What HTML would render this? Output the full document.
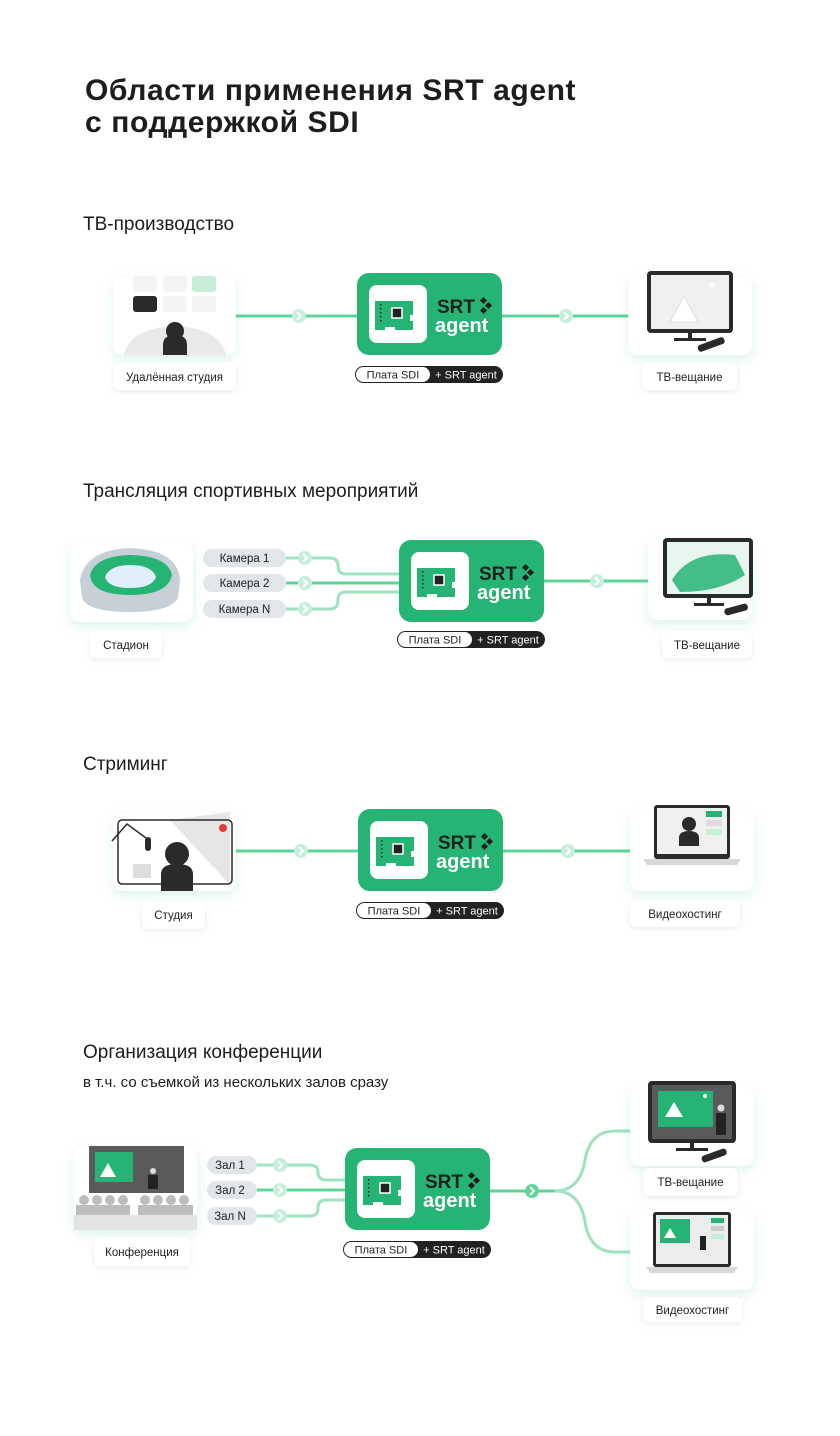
<!DOCTYPE html>
<html><head><meta charset="utf-8"><style>
html,body{margin:0;padding:0;background:#fff}
svg{display:block}
text{font-family:"Liberation Sans","Noto Sans CJK SC",sans-serif}
</style></head><body>
<svg width="840" height="1436" viewBox="0 0 840 1436" xmlns="http://www.w3.org/2000/svg">
<defs>
<filter id="sh" x="-30%" y="-30%" width="160%" height="170%"><feDropShadow dx="0" dy="4" stdDeviation="5" flood-color="#3cc47f" flood-opacity="0.18"/></filter>
<filter id="sh2" x="-30%" y="-30%" width="160%" height="170%"><feDropShadow dx="0" dy="2" stdDeviation="3" flood-color="#000" flood-opacity="0.08"/></filter>
</defs>
<rect width="840" height="1436" fill="#fff"/>
<text x="85" y="100" font-size="30" font-weight="bold" letter-spacing="0.6" fill="#1d1d1d">Области применения SRT agent</text>
<text x="85" y="132" font-size="30" font-weight="bold" letter-spacing="0.6" fill="#1d1d1d">с поддержкой SDI</text>

<text x="83" y="230" font-size="19" fill="#1d1d1d">ТВ-производство</text>
<text x="83" y="497" font-size="19" fill="#1d1d1d">Трансляция спортивных мероприятий</text>
<text x="83" y="770" font-size="19" fill="#1d1d1d">Стриминг</text>
<text x="83" y="1058" font-size="19" fill="#1d1d1d">Организация конференции</text>
<text x="83" y="1087" font-size="15" fill="#1d1d1d">в т.ч. со съемкой из нескольких залов сразу</text>

<!-- ===== Section 1 ===== -->
<line x1="236" y1="316" x2="357" y2="316" stroke="#5fd498" stroke-width="3"/>
<line x1="502" y1="316" x2="628" y2="316" stroke="#5fd498" stroke-width="3"/>
<circle cx="299" cy="316" r="7" fill="#c5efd9"/><path d="M297 312 l4 4 -4 4" stroke="#fff" stroke-width="2" fill="none"/>
<circle cx="566" cy="316" r="7" fill="#c5efd9"/><path d="M564 312 l4 4 -4 4" stroke="#fff" stroke-width="2" fill="none"/>
<rect x="113" y="277" width="123" height="78" rx="10" fill="#fff" filter="url(#sh)"/>
<rect x="133" y="276" width="24" height="16" rx="3" fill="#f4f4f4"/><rect x="163" y="276" width="24" height="16" rx="3" fill="#f4f4f4"/><rect x="192" y="276" width="24" height="16" rx="3" fill="#c7eed8"/>
<rect x="133" y="296" width="24" height="16" rx="3" fill="#2a2a2a"/><rect x="163" y="296" width="24" height="16" rx="3" fill="#f4f4f4"/><rect x="192" y="296" width="24" height="16" rx="3" fill="#f4f4f4"/>
<path d="M124 355 Q130 328 175 326 Q220 328 226 355Z" fill="#e9e9e9"/>
<circle cx="175" cy="331" r="9" fill="#2a2a2a"/><path d="M163 355 v-10 q0-10 12-10 q12 0 12 10 v10z" fill="#2a2a2a"/>
<rect x="113" y="363" width="123" height="27" rx="6" fill="#fff" filter="url(#sh2)"/>
<text x="174.5" y="381" font-size="11.5" text-anchor="middle" fill="#222">Удалённая студия</text>

<rect x="628" y="277" width="124" height="78" rx="10" fill="#fff" filter="url(#sh)"/>
<rect x="647" y="271" width="86" height="62" rx="4" fill="#2a2a2a"/><rect x="651" y="275" width="78" height="54" fill="#f0f0f0"/>
<path d="M670 322 l14-26 14 26z" fill="#fff" stroke="#ddd"/><circle cx="712" cy="285" r="2.5" fill="#fff"/>
<rect x="688" y="333" width="4" height="6" fill="#2a2a2a"/><rect x="674" y="338" width="32" height="3" fill="#2a2a2a"/>
<rect x="697" y="341" width="28" height="7" rx="3" fill="#2a2a2a" transform="rotate(-20 711 344)"/>
<rect x="642" y="363" width="95" height="27" rx="6" fill="#fff" filter="url(#sh2)"/>
<text x="689.5" y="381" font-size="11.5" text-anchor="middle" fill="#222">ТВ-вещание</text>

<g transform="translate(357 273)">
<rect width="145" height="82" rx="12" fill="#26b475"/>
<rect x="12" y="12" width="58" height="58" rx="8" fill="#fff"/>
<path d="M18 28 h38 v14 h-3 v6 h3 v9 h-18 v-3 h-10 v3 h-10z" fill="#26b475"/>
<rect x="35" y="35" width="10" height="10" fill="#222" stroke="#fff" stroke-width="1.5"/>
<g fill="#222"><rect x="23" y="31" width="1.5" height="1.5"/><rect x="23" y="35" width="1.5" height="1.5"/><rect x="23" y="39" width="1.5" height="1.5"/><rect x="23" y="43" width="1.5" height="1.5"/><rect x="23" y="47" width="1.5" height="1.5"/></g>
<text x="80" y="40" font-size="19" font-weight="bold" fill="#1f1f1f">SRT</text>
<g fill="#1f1f1f"><rect x="124" y="25" width="5" height="5" transform="rotate(45 126.5 27.5)"/><rect x="129" y="30" width="5" height="5" transform="rotate(45 131.5 32.5)"/><rect x="124" y="35" width="5" height="5" transform="rotate(45 126.5 37.5)"/></g>
<text x="78" y="59" font-size="20" font-weight="bold" fill="#fff">agent</text>
</g>
<g transform="translate(355 366)">
<rect width="148" height="17" rx="8.5" fill="#222"/><rect x="1" y="1" width="74" height="15" rx="7.5" fill="#fff"/>
<text x="38" y="12.5" font-size="11" text-anchor="middle" fill="#222">Плата SDI</text>
<text x="111" y="12.5" font-size="11" text-anchor="middle" fill="#fff">+ SRT agent</text>
</g>

<!-- ===== Section 2 ===== -->
<g fill="none" stroke-width="3">
<path d="M286 558 H330 Q338 558 338 566 Q338 574 346 574 H399" stroke="#9ee3bf"/>
<path d="M286 583 H399" stroke="#5fd498"/>
<path d="M286 609 H330 Q338 609 338 600 Q338 592 346 592 H399" stroke="#9ee3bf"/>
<line x1="544" y1="581" x2="648" y2="581" stroke="#5fd498"/>
</g>
<circle cx="305" cy="558" r="7" fill="#c5efd9"/><path d="M303 554 l4 4 -4 4" stroke="#fff" stroke-width="2" fill="none"/>
<circle cx="305" cy="583" r="7" fill="#c5efd9"/><path d="M303 579 l4 4 -4 4" stroke="#fff" stroke-width="2" fill="none"/>
<circle cx="305" cy="609" r="7" fill="#c5efd9"/><path d="M303 605 l4 4 -4 4" stroke="#fff" stroke-width="2" fill="none"/>
<circle cx="597" cy="581" r="7" fill="#c5efd9"/><path d="M595 577 l4 4 -4 4" stroke="#fff" stroke-width="2" fill="none"/>
<rect x="203" y="549" width="83" height="18" rx="9" fill="#e3e6e8"/><text x="244.5" y="562" font-size="11.5" text-anchor="middle" fill="#222">Камера 1</text>
<rect x="203" y="574" width="83" height="18" rx="9" fill="#e3e6e8"/><text x="244.5" y="587" font-size="11.5" text-anchor="middle" fill="#222">Камера 2</text>
<rect x="203" y="600" width="83" height="18" rx="9" fill="#e3e6e8"/><text x="244.5" y="613" font-size="11.5" text-anchor="middle" fill="#222">Камера N</text>

<rect x="70" y="543" width="123" height="79" rx="10" fill="#fff" filter="url(#sh)"/>
<path d="M80 580 Q85 550 130 548 Q178 550 180 580 L178 598 Q170 612 130 612 Q88 612 82 598Z" fill="#c7d0d6"/>
<path d="M90 575 Q95 556 130 555 Q168 556 172 575 Q168 595 130 595 Q92 595 90 575Z" fill="#26b475"/>
<path d="M105 577 Q110 565 130 565 Q152 565 156 577 Q152 588 130 588 Q108 588 105 577Z" fill="#dff0fb"/>
<rect x="90" y="630" width="72" height="28" rx="6" fill="#fff" filter="url(#sh2)"/>
<text x="126" y="649" font-size="11.5" text-anchor="middle" fill="#222">Стадион</text>

<rect x="648" y="540" width="104" height="80" rx="10" fill="#fff" filter="url(#sh)"/>
<rect x="663" y="538" width="90" height="60" rx="4" fill="#2a2a2a"/><rect x="667" y="542" width="82" height="52" fill="#e9f6f0"/>
<path d="M672 580 Q690 550 735 555 L745 575 Q720 592 680 592Z" fill="#26b475" opacity="0.85"/>
<rect x="707" y="598" width="4" height="6" fill="#2a2a2a"/><rect x="694" y="603" width="30" height="3" fill="#2a2a2a"/>
<rect x="724" y="606" width="24" height="7" rx="3" fill="#2a2a2a" transform="rotate(-15 736 609)"/>
<rect x="662" y="631" width="90" height="27" rx="6" fill="#fff" filter="url(#sh2)"/>
<text x="707" y="649" font-size="11.5" text-anchor="middle" fill="#222">ТВ-вещание</text>

<g transform="translate(399 540)">
<rect width="145" height="82" rx="12" fill="#26b475"/>
<rect x="12" y="12" width="58" height="58" rx="8" fill="#fff"/>
<path d="M18 28 h38 v14 h-3 v6 h3 v9 h-18 v-3 h-10 v3 h-10z" fill="#26b475"/>
<rect x="35" y="35" width="10" height="10" fill="#222" stroke="#fff" stroke-width="1.5"/>
<g fill="#222"><rect x="23" y="31" width="1.5" height="1.5"/><rect x="23" y="35" width="1.5" height="1.5"/><rect x="23" y="39" width="1.5" height="1.5"/><rect x="23" y="43" width="1.5" height="1.5"/><rect x="23" y="47" width="1.5" height="1.5"/></g>
<text x="80" y="40" font-size="19" font-weight="bold" fill="#1f1f1f">SRT</text>
<g fill="#1f1f1f"><rect x="124" y="25" width="5" height="5" transform="rotate(45 126.5 27.5)"/><rect x="129" y="30" width="5" height="5" transform="rotate(45 131.5 32.5)"/><rect x="124" y="35" width="5" height="5" transform="rotate(45 126.5 37.5)"/></g>
<text x="78" y="59" font-size="20" font-weight="bold" fill="#fff">agent</text>
</g>
<g transform="translate(397 631)">
<rect width="148" height="17" rx="8.5" fill="#222"/><rect x="1" y="1" width="74" height="15" rx="7.5" fill="#fff"/>
<text x="38" y="12.5" font-size="11" text-anchor="middle" fill="#222">Плата SDI</text>
<text x="111" y="12.5" font-size="11" text-anchor="middle" fill="#fff">+ SRT agent</text>
</g>

<!-- ===== Section 3 ===== -->
<line x1="236" y1="851" x2="358" y2="851" stroke="#5fd498" stroke-width="3"/>
<line x1="503" y1="851" x2="630" y2="851" stroke="#5fd498" stroke-width="3"/>
<circle cx="301" cy="851" r="7" fill="#c5efd9"/><path d="M299 847 l4 4 -4 4" stroke="#fff" stroke-width="2" fill="none"/>
<circle cx="568" cy="851" r="7" fill="#c5efd9"/><path d="M566 847 l4 4 -4 4" stroke="#fff" stroke-width="2" fill="none"/>
<rect x="113" y="813" width="123" height="78" rx="10" fill="#fff" filter="url(#sh)"/>
<path d="M170 820 L230 812 L230 885 Z" fill="#e6e6e6"/>
<rect x="118" y="820" width="114" height="64" rx="4" fill="none" stroke="#2a2a2a" stroke-width="1.5"/>
<circle cx="223" cy="828" r="4" fill="#e53935"/>
<path d="M112 841 L127 824 L146 838" stroke="#2a2a2a" stroke-width="1.5" fill="none"/>
<rect x="145" y="837" width="6" height="14" rx="3" fill="#2a2a2a"/>
<rect x="133" y="864" width="18" height="14" fill="#ddd"/>
<circle cx="177" cy="854" r="12" fill="#2a2a2a"/><path d="M161 891 v-17 q0-10 16-10 q16 0 16 10 v17z" fill="#2a2a2a"/>
<rect x="142" y="901" width="63" height="28" rx="6" fill="#fff" filter="url(#sh2)"/>
<text x="173.5" y="919" font-size="11.5" text-anchor="middle" fill="#222">Студия</text>

<rect x="630" y="813" width="124" height="78" rx="10" fill="#fff" filter="url(#sh)"/>
<rect x="654" y="805" width="76" height="54" rx="3" fill="#2a2a2a"/><rect x="657" y="808" width="70" height="46" fill="#f0f0f0"/>
<rect x="706" y="811" width="16" height="6" fill="#26b475"/><rect x="706" y="820" width="16" height="6" fill="#ddd"/><rect x="706" y="829" width="16" height="6" fill="#c7eed8"/>
<circle cx="689" cy="824" r="7" fill="#2a2a2a"/><path d="M679 846 v-8 q0-7 10-7 q10 0 10 7 v8z" fill="#2a2a2a"/>
<path d="M643 859 h98 l-4 6 h-90z" fill="#d8d8d8"/>
<rect x="630" y="900" width="110" height="27" rx="6" fill="#fff" filter="url(#sh2)"/>
<text x="685" y="918" font-size="11.5" text-anchor="middle" fill="#222">Видеохостинг</text>

<g transform="translate(358 809)">
<rect width="145" height="82" rx="12" fill="#26b475"/>
<rect x="12" y="12" width="58" height="58" rx="8" fill="#fff"/>
<path d="M18 28 h38 v14 h-3 v6 h3 v9 h-18 v-3 h-10 v3 h-10z" fill="#26b475"/>
<rect x="35" y="35" width="10" height="10" fill="#222" stroke="#fff" stroke-width="1.5"/>
<g fill="#222"><rect x="23" y="31" width="1.5" height="1.5"/><rect x="23" y="35" width="1.5" height="1.5"/><rect x="23" y="39" width="1.5" height="1.5"/><rect x="23" y="43" width="1.5" height="1.5"/><rect x="23" y="47" width="1.5" height="1.5"/></g>
<text x="80" y="40" font-size="19" font-weight="bold" fill="#1f1f1f">SRT</text>
<g fill="#1f1f1f"><rect x="124" y="25" width="5" height="5" transform="rotate(45 126.5 27.5)"/><rect x="129" y="30" width="5" height="5" transform="rotate(45 131.5 32.5)"/><rect x="124" y="35" width="5" height="5" transform="rotate(45 126.5 37.5)"/></g>
<text x="78" y="59" font-size="20" font-weight="bold" fill="#fff">agent</text>
</g>
<g transform="translate(356 902)">
<rect width="148" height="17" rx="8.5" fill="#222"/><rect x="1" y="1" width="74" height="15" rx="7.5" fill="#fff"/>
<text x="38" y="12.5" font-size="11" text-anchor="middle" fill="#222">Плата SDI</text>
<text x="111" y="12.5" font-size="11" text-anchor="middle" fill="#fff">+ SRT agent</text>
</g>

<!-- ===== Section 4 ===== -->
<g fill="none" stroke-width="3">
<path d="M257 1165 H310 Q318 1165 318 1172 Q318 1180 326 1180 H345" stroke="#9ee3bf"/>
<path d="M257 1190 H345" stroke="#5fd498"/>
<path d="M257 1216 H310 Q318 1216 318 1208 Q318 1200 326 1200 H345" stroke="#9ee3bf"/>
<line x1="490" y1="1191" x2="560" y2="1191" stroke="#5fd498"/>
<path d="M555 1191 Q580 1191 585 1160 Q590 1131 615 1131 H630" stroke="#9ee3bf"/>
<path d="M555 1191 Q580 1191 585 1222 Q590 1252 615 1252 H630" stroke="#9ee3bf"/>
</g>
<circle cx="280" cy="1165" r="7" fill="#c5efd9"/><path d="M278 1161 l4 4 -4 4" stroke="#fff" stroke-width="2" fill="none"/>
<circle cx="280" cy="1190" r="7" fill="#c5efd9"/><path d="M278 1186 l4 4 -4 4" stroke="#fff" stroke-width="2" fill="none"/>
<circle cx="280" cy="1216" r="7" fill="#c5efd9"/><path d="M278 1212 l4 4 -4 4" stroke="#fff" stroke-width="2" fill="none"/>
<circle cx="532" cy="1191" r="7" fill="#5fd498"/><path d="M530 1187 l4 4 -4 4" stroke="#fff" stroke-width="2" fill="none"/>
<rect x="207" y="1156" width="50" height="18" rx="9" fill="#e3e6e8"/><text x="230" y="1169" font-size="11.5" text-anchor="middle" fill="#222">Зал 1</text>
<rect x="207" y="1181" width="50" height="18" rx="9" fill="#e3e6e8"/><text x="230" y="1194" font-size="11.5" text-anchor="middle" fill="#222">Зал 2</text>
<rect x="207" y="1207" width="50" height="18" rx="9" fill="#e3e6e8"/><text x="230" y="1220" font-size="11.5" text-anchor="middle" fill="#222">Зал N</text>

<rect x="74" y="1146" width="123" height="84" rx="10" fill="#fff" filter="url(#sh)"/>
<rect x="89" y="1146" width="95" height="47" fill="#5a5a5a"/>
<rect x="95" y="1152" width="38" height="30" fill="#26b475"/>
<path d="M100 1177 l8-14 8 14z" fill="#fff"/>
<rect x="148" y="1175" width="10" height="14" fill="#222"/><circle cx="153" cy="1171" r="3" fill="#ddd"/>
<g fill="#bdbdbd"><circle cx="84" cy="1200" r="5"/><circle cx="97" cy="1200" r="5"/><circle cx="110" cy="1200" r="5"/><circle cx="123" cy="1200" r="5"/><circle cx="145" cy="1200" r="5"/><circle cx="158" cy="1200" r="5"/><circle cx="171" cy="1200" r="5"/><circle cx="184" cy="1200" r="5"/>
<rect x="76" y="1205" width="54" height="10"/><rect x="138" y="1205" width="55" height="10"/></g>
<rect x="74" y="1215" width="123" height="15" fill="#e4e4e4"/>
<rect x="94" y="1237" width="96" height="29" rx="6" fill="#fff" filter="url(#sh2)"/>
<text x="142" y="1256" font-size="11.5" text-anchor="middle" fill="#222">Конференция</text>

<rect x="630" y="1087" width="124" height="79" rx="10" fill="#fff" filter="url(#sh)"/>
<rect x="648" y="1081" width="88" height="62" rx="4" fill="#2a2a2a"/><rect x="652" y="1085" width="80" height="54" fill="#5a5a5a"/>
<rect x="658" y="1091" width="55" height="36" fill="#26b475"/><path d="M665 1117 l9-15 9 15z" fill="#fff"/><circle cx="705" cy="1096" r="2" fill="#fff"/>
<rect x="716" y="1113" width="10" height="22" fill="#222"/><circle cx="721" cy="1108" r="3.5" fill="#ddd"/>
<rect x="690" y="1143" width="4" height="6" fill="#2a2a2a"/><rect x="676" y="1148" width="32" height="3" fill="#2a2a2a"/>
<rect x="701" y="1152" width="26" height="7" rx="3" fill="#2a2a2a" transform="rotate(-20 714 1155)"/>
<rect x="643" y="1168" width="95" height="28" rx="6" fill="#fff" filter="url(#sh2)"/>
<text x="690.5" y="1186" font-size="11.5" text-anchor="middle" fill="#222">ТВ-вещание</text>

<rect x="630" y="1213" width="124" height="77" rx="10" fill="#fff" filter="url(#sh)"/>
<rect x="653" y="1212" width="78" height="55" rx="3" fill="#2a2a2a"/><rect x="656" y="1215" width="72" height="49" fill="#ededed"/>
<rect x="660" y="1219" width="30" height="24" fill="#26b475"/><path d="M664 1238 l6-10 6 10z" fill="#fff"/>
<rect x="711" y="1218" width="13" height="5" fill="#26b475"/><rect x="711" y="1226" width="13" height="5" fill="#ccc"/><rect x="711" y="1234" width="13" height="5" fill="#c7eed8"/>
<rect x="700" y="1236" width="6" height="14" fill="#222"/>
<path d="M646 1267 h92 l-4 6 h-84z" fill="#d8d8d8"/>
<rect x="643" y="1297" width="99" height="25" rx="6" fill="#fff" filter="url(#sh2)"/>
<text x="692.5" y="1314" font-size="11.5" text-anchor="middle" fill="#222">Видеохостинг</text>

<g transform="translate(345 1148)">
<rect width="145" height="82" rx="12" fill="#26b475"/>
<rect x="12" y="12" width="58" height="58" rx="8" fill="#fff"/>
<path d="M18 28 h38 v14 h-3 v6 h3 v9 h-18 v-3 h-10 v3 h-10z" fill="#26b475"/>
<rect x="35" y="35" width="10" height="10" fill="#222" stroke="#fff" stroke-width="1.5"/>
<g fill="#222"><rect x="23" y="31" width="1.5" height="1.5"/><rect x="23" y="35" width="1.5" height="1.5"/><rect x="23" y="39" width="1.5" height="1.5"/><rect x="23" y="43" width="1.5" height="1.5"/><rect x="23" y="47" width="1.5" height="1.5"/></g>
<text x="80" y="40" font-size="19" font-weight="bold" fill="#1f1f1f">SRT</text>
<g fill="#1f1f1f"><rect x="124" y="25" width="5" height="5" transform="rotate(45 126.5 27.5)"/><rect x="129" y="30" width="5" height="5" transform="rotate(45 131.5 32.5)"/><rect x="124" y="35" width="5" height="5" transform="rotate(45 126.5 37.5)"/></g>
<text x="78" y="59" font-size="20" font-weight="bold" fill="#fff">agent</text>
</g>
<g transform="translate(343 1241)">
<rect width="148" height="17" rx="8.5" fill="#222"/><rect x="1" y="1" width="74" height="15" rx="7.5" fill="#fff"/>
<text x="38" y="12.5" font-size="11" text-anchor="middle" fill="#222">Плата SDI</text>
<text x="111" y="12.5" font-size="11" text-anchor="middle" fill="#fff">+ SRT agent</text>
</g>
</svg>
</body></html>
